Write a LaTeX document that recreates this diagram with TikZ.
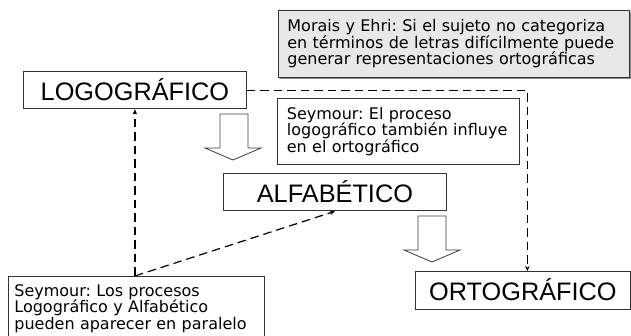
\documentclass[tikz,border=0pt]{standalone}
\usepackage{fontspec}
\setmainfont{DejaVu Sans}
\newfontfamily\labelfont{Liberation Sans}
\usetikzlibrary{arrows.meta,shadows}
\frenchspacing
\begin{document}
\begin{tikzpicture}[x=1pt,y=-1pt,
  stage/.style={draw=black!80, line width=0.8pt, fill=white, font=\labelfont\fontsize{25.3}{28}\selectfont, minimum height=37.5pt, inner sep=0pt, anchor=north west},
  note/.style={draw=black!80, line width=0.8pt, fill=white, font=\fontsize{16}{16.6}\selectfont, align=left, anchor=north west},
  dashline/.style={draw=black, line width=1.2pt, dash pattern=on 8.5pt off 5pt, -{Stealth[length=5pt,width=4.5pt]}},
  blockarrow/.style={draw=black!75, line width=0.8pt, fill=white, line join=miter}]
\clip (0,0) rectangle (631,336);
\fill[white] (0,0) rectangle (631,336);

\node[stage, minimum width=223pt] (logo) at (23,71) {LOGOGRÁFICO};
\node[stage, minimum width=223pt] (alfa) at (223,173) {ALFABÉTICO};
\node[stage, minimum width=215pt] (orto) at (415,271) {ORTOGRÁFICO};

\node[note, fill=black!9, drop shadow={shadow xshift=1.2pt, shadow yshift=-1.2pt, fill=black!45, opacity=1},
      minimum height=67pt, text width=333pt, inner xsep=9pt, inner ysep=0pt] (morais) at (278,10)
  {Morais y Ehri: Si el sujeto no categoriza\\en términos de letras difícilmente puede\\generar representaciones ortográficas};
\node[note, minimum height=66pt, text width=223pt, inner xsep=9.5pt, inner ysep=0pt] (seyA) at (277,98)
  {Seymour: El proceso\\logográfico también influye\\en el ortográfico};
\node[note, text width=244pt, inner xsep=6pt, inner ysep=8pt] (seyB) at (8,276)
  {Seymour: Los procesos\\Logográfico y Alfabético\\pueden aparecer en paralelo};

\coordinate (j) at (logo.south |- seyB.north);
\draw[dashline] (j) -- (logo.south);
\draw[dashline] (j) -- (alfa.south);
\draw[dashline] (logo.east) -| ([xshift=4.5pt]orto.north);

\draw[blockarrow] (220,114) -- (248,114) -- (248,148) -- (261,148) -- (233,160) -- (205,148) -- (220,148) -- cycle;
\draw[blockarrow] (418,216) -- (446,216) -- (446,250) -- (460,250) -- (432,262) -- (404,250) -- (418,250) -- cycle;
\end{tikzpicture}
\end{document}
